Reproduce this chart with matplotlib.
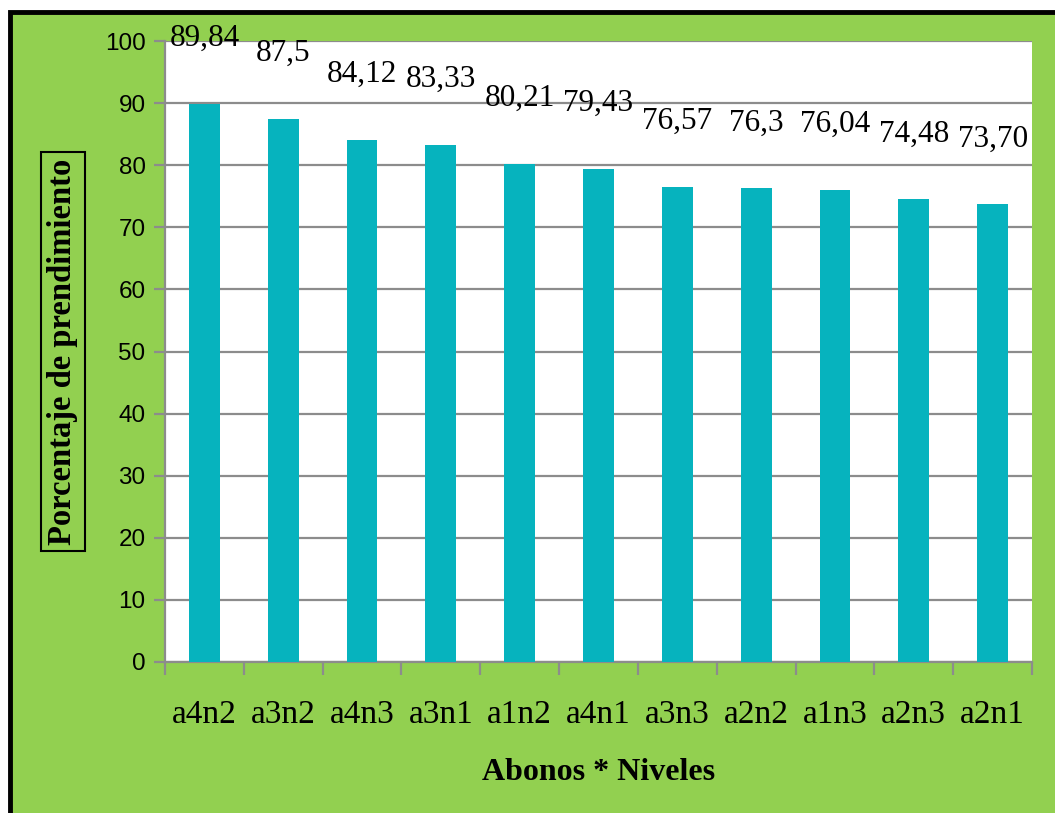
import matplotlib.pyplot as plt
from matplotlib.patches import Rectangle

tratamientos = ['a4n2', 'a3n2', 'a4n3', 'a3n1', 'a1n2', 'a4n1',
                'a3n3', 'a2n2', 'a1n3', 'a2n3', 'a2n1']
prendimiento = [89.84, 87.5, 84.12, 83.33, 80.21, 79.43,
                76.57, 76.3, 76.04, 74.48, 73.70]
etiquetas = ['89,84', '87,5', '84,12', '83,33', '80,21', '79,43',
             '76,57', '76,3', '76,04', '74,48', '73,70']

verde = '#92D050'
barra = '#06B3BE'
gris = '#8C8C8C'
serif = ['Liberation Serif', 'DejaVu Serif']

fig = plt.figure(figsize=(10.55, 8.13), dpi=100)
fig.patch.set_facecolor('white')

# green chart area with black frame on top/left
W, H = 1055, 813
fig.patches.append(Rectangle((10 / W, -0.05), 1.1, (H - 12) / H + 0.05,
                             transform=fig.transFigure, facecolor=verde,
                             edgecolor='black', linewidth=3.5, zorder=-10))

ax = fig.add_axes([165 / W, 1 - 662 / H, (1032 - 165) / W, (662 - 41) / H])
ax.set_facecolor('white')

x = list(range(len(tratamientos)))
ax.bar(x, prendimiento, width=0.39, color=barra, zorder=3)

for xi, v, t in zip(x, prendimiento, etiquetas):
    ax.annotate(t, (xi, v), xytext=(0, 47), textcoords='offset points',
                ha='center', va='center', fontsize=22.5, family=serif,
                color='black', zorder=5, annotation_clip=False)

ax.set_xlim(-0.5, len(tratamientos) - 0.5)
ax.set_ylim(0, 100)
ax.set_yticks(range(0, 101, 10))
ax.yaxis.grid(True, color=gris, linewidth=1.6, zorder=1)
ax.set_axisbelow(True)

for s in ['top', 'right']:
    ax.spines[s].set_visible(False)
for s in ['left', 'bottom']:
    ax.spines[s].set_color(gris)
    ax.spines[s].set_linewidth(1.6)

# tick marks between categories, labels centred under bars
ax.set_xticks([i - 0.5 for i in range(len(tratamientos) + 1)])
ax.set_xticklabels([])
ax.set_xticks(x, minor=True)
ax.set_xticklabels(tratamientos, minor=True, fontsize=24, family=serif)
ax.tick_params(axis='x', which='major', direction='out', length=9,
               width=1.6, color=gris)
ax.tick_params(axis='x', which='minor', length=0, pad=27)
ax.tick_params(axis='y', direction='out', length=8, width=1.6, color=gris,
               labelsize=17.5, pad=6)
for lab in ax.get_yticklabels():
    lab.set_family(['Liberation Sans', 'DejaVu Sans'])

ax.set_xlabel('Abonos * Niveles', fontsize=23, fontweight='bold',
              family=serif, labelpad=20)
ax.set_ylabel('Porcentaje de prendimiento', fontsize=23.5, fontweight='bold',
              family=serif, labelpad=19,
              bbox=dict(boxstyle='square,pad=0.2', facecolor='none',
                        edgecolor='black', linewidth=1.5))

fig.savefig('out.png', dpi=100, facecolor=fig.get_facecolor())
